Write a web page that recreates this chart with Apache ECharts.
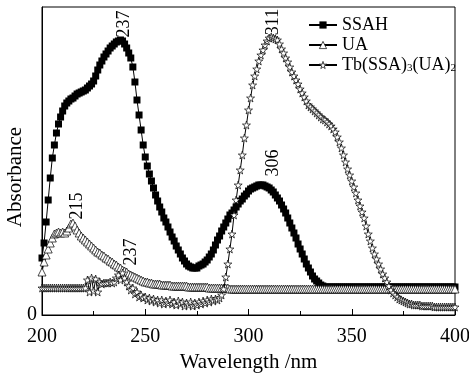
<!DOCTYPE html>
<html>
<head>
<meta charset="utf-8">
<script src="https://cdn.jsdelivr.net/npm/echarts@6/dist/echarts.min.js"></script>
<style>
html,body{margin:0;padding:0;background:#fff;}
#chart{width:469px;height:380px;}
</style>
</head>
<body>
<div id="chart"></div>
<script>
// Wavelength sampling (nm): 200..400, 1 nm step
const startNm = 200;
const stepNm = 1;
const xTicks = [200, 250, 300, 350, 400];
const seriesNames = ['SSAH', 'UA', 'Tb(SSA)3(UA)2'];

// SSAH absorbance, 200..400 nm
const ssah = [
0.57,0.72,0.93,1.15,1.37,1.57,1.70,1.82,1.91,1.98,
2.04,2.09,2.12,2.14,2.16,2.17,2.19,2.21,2.22,2.23,
2.24,2.25,2.27,2.29,2.31,2.34,2.39,2.45,2.50,2.54,
2.58,2.61,2.64,2.67,2.69,2.71,2.73,2.74,2.75,2.74,
2.71,2.67,2.62,2.57,2.48,2.33,2.15,2.00,1.85,1.70,
1.58,1.49,1.41,1.34,1.27,1.20,1.14,1.08,1.03,0.97,
0.93,0.88,0.83,0.78,0.74,0.69,0.65,0.61,0.57,0.54,
0.51,0.49,0.48,0.47,0.47,0.47,0.49,0.50,0.51,0.53,
0.55,0.58,0.61,0.65,0.70,0.75,0.79,0.84,0.88,0.92,
0.96,1.00,1.02,1.05,1.08,1.11,1.14,1.16,1.19,1.21,
1.24,1.26,1.27,1.28,1.29,1.30,1.30,1.30,1.29,1.28,
1.27,1.25,1.23,1.20,1.17,1.14,1.10,1.06,1.02,0.97,
0.92,0.87,0.82,0.77,0.71,0.66,0.61,0.56,0.51,0.47,
0.43,0.39,0.36,0.34,0.32,0.30,0.29,0.28,0.28,0.28,
0.28,0.28,0.28,0.28,0.28,0.28,0.28,0.28,0.28,0.28,
0.28,0.28,0.28,0.28,0.28,0.28,0.28,0.28,0.28,0.28,
0.28,0.28,0.28,0.28,0.28,0.28,0.28,0.28,0.28,0.28,
0.28,0.28,0.28,0.28,0.28,0.28,0.28,0.28,0.28,0.28,
0.28,0.28,0.28,0.28,0.28,0.28,0.28,0.28,0.28,0.28,
0.28,0.28,0.28,0.28,0.28,0.28,0.28,0.28,0.28,0.28,
0.28
];

// UA absorbance, 200..400 nm
const ua = [
0.43,0.53,0.60,0.66,0.72,0.77,0.81,0.82,0.83,0.82,
0.83,0.82,0.84,0.87,0.91,0.92,0.89,0.85,0.82,0.79,
0.77,0.75,0.73,0.71,0.69,0.67,0.65,0.63,0.62,0.60,
0.59,0.57,0.56,0.54,0.53,0.51,0.50,0.48,0.47,0.45,
0.44,0.43,0.41,0.40,0.39,0.38,0.37,0.36,0.35,0.34,
0.33,0.33,0.32,0.32,0.31,0.31,0.31,0.31,0.30,0.30,
0.30,0.30,0.30,0.29,0.29,0.29,0.29,0.29,0.29,0.29,
0.29,0.28,0.28,0.28,0.28,0.28,0.28,0.28,0.28,0.28,
0.28,0.27,0.27,0.27,0.27,0.27,0.27,0.27,0.27,0.27,
0.27,0.26,0.26,0.26,0.26,0.26,0.26,0.26,0.26,0.26,
0.26,0.26,0.26,0.26,0.26,0.26,0.26,0.26,0.26,0.26,
0.26,0.26,0.26,0.26,0.26,0.26,0.26,0.26,0.26,0.26,
0.26,0.26,0.26,0.26,0.26,0.26,0.26,0.26,0.26,0.26,
0.26,0.26,0.26,0.26,0.26,0.26,0.26,0.26,0.26,0.26,
0.26,0.26,0.26,0.26,0.26,0.26,0.26,0.26,0.26,0.26,
0.26,0.26,0.26,0.26,0.26,0.26,0.26,0.26,0.26,0.26,
0.26,0.26,0.26,0.26,0.26,0.26,0.26,0.26,0.26,0.26,
0.26,0.26,0.26,0.26,0.26,0.26,0.26,0.26,0.26,0.26,
0.26,0.26,0.26,0.26,0.26,0.26,0.26,0.26,0.26,0.26,
0.26,0.26,0.26,0.26,0.26,0.26,0.26,0.26,0.26,0.26,
0.26
];

// Tb(SSA)3(UA)2 absorbance, 200..400 nm
const tb = [
0.27,0.27,0.27,0.27,0.27,0.27,0.27,0.27,0.27,0.27,
0.27,0.27,0.27,0.27,0.27,0.27,0.27,0.27,0.27,0.27,
0.27,0.27,0.35,0.23,0.37,0.24,0.36,0.23,0.33,0.31,
0.32,0.32,0.32,0.33,0.32,0.33,0.37,0.40,0.35,0.42,
0.37,0.33,0.29,0.25,0.27,0.21,0.23,0.18,0.20,0.17,
0.18,0.15,0.17,0.14,0.16,0.13,0.15,0.12,0.15,0.11,
0.14,0.12,0.15,0.11,0.13,0.10,0.14,0.11,0.13,0.09,
0.12,0.10,0.13,0.09,0.12,0.10,0.13,0.11,0.14,0.12,
0.15,0.13,0.16,0.14,0.16,0.15,0.17,0.20,0.26,0.38,
0.51,0.66,0.81,1.00,1.15,1.30,1.45,1.60,1.77,1.90,
2.05,2.17,2.30,2.39,2.46,2.54,2.60,2.65,2.70,2.74,
2.77,2.78,2.77,2.76,2.75,2.71,2.66,2.62,2.57,2.53,
2.48,2.43,2.39,2.35,2.31,2.26,2.22,2.18,2.14,2.10,
2.08,2.06,2.04,2.02,2.00,1.98,1.96,1.95,1.93,1.91,
1.89,1.86,1.83,1.78,1.73,1.67,1.60,1.53,1.46,1.40,
1.34,1.28,1.22,1.15,1.09,1.03,0.97,0.89,0.81,0.74,
0.67,0.61,0.56,0.51,0.46,0.41,0.37,0.33,0.29,0.25,
0.22,0.20,0.18,0.16,0.15,0.14,0.13,0.12,0.11,0.11,
0.10,0.10,0.10,0.10,0.09,0.09,0.09,0.09,0.09,0.09,
0.08,0.08,0.08,0.08,0.08,0.08,0.08,0.08,0.08,0.08,
0.08
];

// Peak annotations (text, wavelength, absorbance at label centre)
const notes = [
  {text:'237', nm:239.7, abs:2.91},
  {text:'311', nm:311.9, abs:2.93},
  {text:'306', nm:311.9, abs:1.52},
  {text:'215', nm:216.9, abs:1.09},
  {text:'237', nm:243.1, abs:0.63}
];

const FONT = "'Liberation Serif','Times New Roman',serif";
const toXY = arr => arr.map((v, i) => [startNm + i * stepNm, v]);
const STAR = 'path://M50,0 L61,35 98,35 68,57 79,91 50,70 21,91 32,57 2,35 39,35 Z';
const hollow = {color: '#fff', borderColor: '#000', borderWidth: 0.7};

const chart = echarts.init(document.getElementById('chart'), null, {renderer:'canvas'});
const option = {
  animation: false,
  backgroundColor: '#fff',
  grid: {left: 42, right: 14, top: 7, bottom: 65, containLabel: false, outerBoundsMode: 'none',
    show: true, borderColor: '#000', borderWidth: 1, backgroundColor: 'transparent'},
  legend: {
    orient: 'vertical', left: 303, top: 11, itemWidth: 28, itemHeight: 9, itemGap: 2,
    selectedMode: false,
    data: [
      {name: seriesNames[0]},
      {name: seriesNames[1], itemStyle: hollow},
      {name: seriesNames[2], itemStyle: hollow}
    ],
    textStyle: {fontFamily: FONT, fontSize: 18, color: '#000', lineHeight: 18,
      rich: {s: {fontFamily: FONT, fontSize: 11, color: '#000', verticalAlign: 'bottom', lineHeight: 18}}},
    formatter: name => name === seriesNames[2] ? 'Tb(SSA){s|3}(UA){s|2}' : name
  },
  xAxis: {
    type: 'value', min: xTicks[0], max: xTicks[xTicks.length - 1], interval: 50,
    name: 'Wavelength /nm', nameLocation: 'middle', nameGap: 36,
    nameTextStyle: {fontFamily: FONT, fontSize: 21, color: '#000'},
    axisLine: {show: true, lineStyle: {color: '#000', width: 1}},
    axisTick: {show: true, inside: true, length: 6, lineStyle: {color: '#000'}},
    minorTick: {show: true, splitNumber: 2, length: 4, lineStyle: {color: '#000'}},
    splitLine: {show: false},
    axisLabel: {fontFamily: FONT, fontSize: 20, color: '#000', margin: 12, showMinLabel: true, showMaxLabel: true}
  },
  yAxis: {
    type: 'value', min: 0, max: 3.08, interval: 3.08,
    axisLine: {show: true, lineStyle: {color: '#000', width: 1}},
    axisTick: {show: false},
    splitLine: {show: false},
    axisLabel: {fontFamily: FONT, fontSize: 20, color: '#000', margin: 5, formatter: v => v === 0 ? '0' : ''}
  },
  series: [
    {name: seriesNames[0], type: 'line', data: toXY(ssah), symbol: 'rect', symbolSize: 7,
     lineStyle: {color: '#000', width: 1}, itemStyle: {color: '#000'}, z: 2},
    {name: seriesNames[1], type: 'line', data: toXY(ua), symbol: 'triangle', symbolSize: 8,
     lineStyle: {color: '#000', width: 1}, itemStyle: hollow, z: 3},
    {name: seriesNames[2], type: 'line', data: toXY(tb), symbol: STAR, symbolSize: 8,
     lineStyle: {color: '#000', width: 1}, itemStyle: hollow, z: 4}
  ]
};
chart.setOption(option);

const graphics = notes.map(n => {
  const p = chart.convertToPixel({xAxisIndex: 0, yAxisIndex: 0}, [n.nm, n.abs]);
  return {
    type: 'text', x: p[0], y: p[1], rotation: Math.PI / 2, z: 10,
    style: {text: n.text, fontFamily: FONT, fontSize: 18, fill: '#000',
      textAlign: 'center', textVerticalAlign: 'middle', align: 'center', verticalAlign: 'middle'}
  };
});
// y-axis title
graphics.push({
  type: 'text', x: 15, y: 177, rotation: Math.PI / 2, z: 10,
  style: {text: 'Absorbance', fontFamily: FONT, fontSize: 21, fill: '#000',
    textAlign: 'center', textVerticalAlign: 'middle', align: 'center', verticalAlign: 'middle'}
});
chart.setOption({graphic: graphics});
</script>
</body>
</html>
